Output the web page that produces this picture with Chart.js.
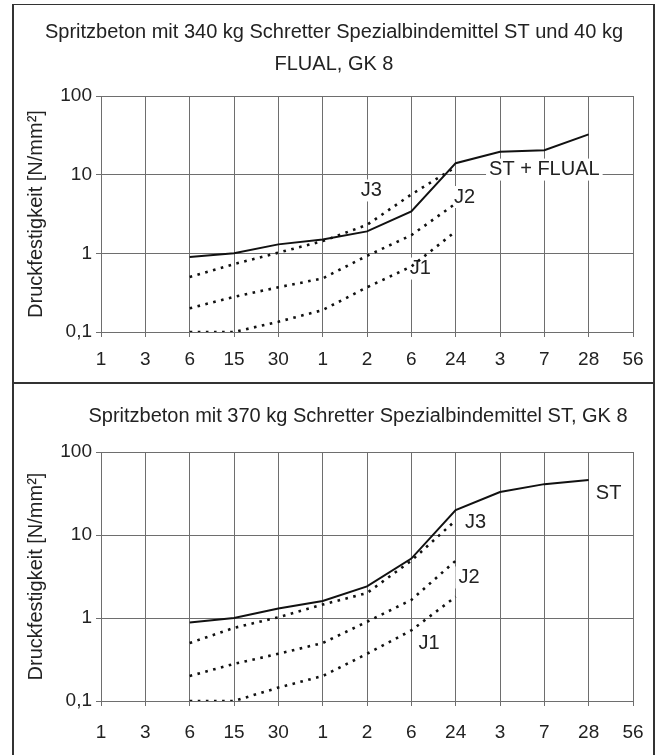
<!DOCTYPE html>
<html>
<head>
<meta charset="utf-8">
<script src="https://cdn.jsdelivr.net/npm/chart.js@4.4.1/dist/chart.umd.min.js"></script>
<style>
  body { margin:0; background:#fff; width:657px; height:755px; position:relative; overflow:hidden; }
  canvas { position:absolute; }
  .rahmen { position:absolute; background:#333; }
</style>
</head>
<body>
<div class="rahmen" style="left:12px;top:4px;width:2px;height:751px"></div>
<div class="rahmen" style="left:12px;top:4px;width:641px;height:1px"></div>
<div class="rahmen" style="left:653px;top:4px;width:2px;height:751px"></div>
<div class="rahmen" style="left:12px;top:382px;width:643px;height:2px"></div>
<canvas id="oben" width="639" height="376" style="left:14px;top:6px"></canvas>
<canvas id="unten" width="639" height="370" style="left:14px;top:385px"></canvas>
<script>
// Zeitachse: Minuten (1..30), Stunden (1..24), Tage (3..56)
const zeitLabels = ['1','3','6','15','30','1','2','6','24','3','7','28','56'];
const yTicks = [0.1, 1, 10, 100];
const yTickLabels = ['0,1', '1', '10', '100'];

// oben: 340 kg ST + 40 kg FLUAL
const stFlual = [null,null,0.9,1.0,1.3,1.5,1.9,3.4,14,19.5,20.5,32.5,null];
const j3Oben  = [null,null,0.5,0.73,1.02,1.43,2.3,5.6,12.5,null,null,null,null];
const j2Oben  = [null,null,0.2,0.28,0.37,0.48,0.93,1.7,4.3,null,null,null,null];
const j1Oben  = [null,null,0.1,0.1,0.135,0.19,0.37,0.68,1.9,null,null,null,null];

// unten: 370 kg ST
const stUnten = [null,null,0.88,1.0,1.3,1.6,2.4,5.2,20,33,41,46,null];
const j3Unten = [null,null,0.5,0.76,1.02,1.45,2.0,4.9,15,null,null,null,null];
const j2Unten = [null,null,0.2,0.28,0.37,0.5,0.9,1.65,4.9,null,null,null,null];
const j1Unten = [null,null,0.1,0.1,0.145,0.2,0.37,0.71,1.8,null,null,null,null];

const schrift = '"Liberation Sans", Arial, sans-serif';
const textFarbe = '#222';
const gitterFarbe = '#6e6e6e';

function linie(werte, gepunktet){
    return {
        data: werte,
        borderColor: '#111',
        borderWidth: gepunktet ? 2.6 : 2,
        borderDash: gepunktet ? [2.6, 5.5] : [],
        pointRadius: 0,
        tension: 0,
        spanGaps: false,
        order: gepunktet ? 2 : 1
    };
}

function titelPlugin(zeilen, x, y0, abstand){
    return {
        id: 'titel',
        afterDraw(chart){
            const ctx = chart.ctx;
            ctx.save();
            ctx.font = '20px ' + schrift;
            ctx.fillStyle = textFarbe;
            ctx.textAlign = 'center';
            ctx.textBaseline = 'middle';
            zeilen.forEach((z, i) => ctx.fillText(z, x, y0 + i * abstand));
            ctx.restore();
        }
    };
}

function beschriftungPlugin(eintraege){
    return {
        id: 'beschriftung',
        beforeDatasetsDraw(chart){
            const ctx = chart.ctx;
            const xs = chart.scales.x, ys = chart.scales.y;
            ctx.save();
            ctx.font = '20px ' + schrift;
            ctx.textAlign = 'center';
            ctx.textBaseline = 'middle';
            eintraege.forEach(e => {
                const px = xs.getPixelForValue(e.idx);
                const py = ys.getPixelForValue(e.wert);
                const w = ctx.measureText(e.text).width;
                ctx.fillStyle = '#fff';
                ctx.fillRect(px - w/2 - 3, py - 11, w + 6, 22);
                ctx.fillStyle = textFarbe;
                ctx.fillText(e.text, px, py);
            });
            ctx.restore();
        }
    };
}

function diagramm(id, reihen, titel, beschriftung, oben, xHoehe, xAbstand){
    new Chart(document.getElementById(id), {
        type: 'line',
        data: {
            labels: zeitLabels,
            datasets: reihen
        },
        options: {
            responsive: false,
            animation: false,
            layout: { padding: { left: 0, right: 20, top: oben, bottom: 0 } },
            plugins: { legend: { display: false }, tooltip: { enabled: false } },
            scales: {
                x: {
                    offset: false,
                    grid: { color: gitterFarbe, lineWidth: 1, tickLength: 5, drawTicks: true },
                    border: { display: false },
                    ticks: { color: textFarbe, font: { size: 19, family: schrift }, autoSkip: false, maxRotation: 0, padding: xAbstand },
                    afterFit(s){ s.height = xHoehe; s.paddingLeft = 0; s.paddingRight = 0; }
                },
                y: {
                    type: 'logarithmic',
                    min: 0.1,
                    max: 100,
                    grid: { color: gitterFarbe, lineWidth: 1, tickLength: 5 },
                    border: { display: false },
                    afterBuildTicks(s){ s.ticks = yTicks.map(v => ({ value: v })); },
                    ticks: {
                        color: textFarbe,
                        font: { size: 19, family: schrift },
                        padding: 4,
                        callback: (v, i) => yTickLabels[i]
                    },
                    title: {
                        display: true,
                        text: 'Druckfestigkeit [N/mm²]',
                        color: textFarbe,
                        font: { size: 20, family: schrift },
                        padding: { top: 10, bottom: 0 }
                    },
                    afterFit(s){ s.width = 87; s.paddingTop = 0; s.paddingBottom = 0; }
                }
            }
        },
        plugins: [titelPlugin.apply(null, titel), beschriftungPlugin(beschriftung)]
    });
}

diagramm('oben',
    [linie(stFlual, false), linie(j3Oben, true), linie(j2Oben, true), linie(j1Oben, true)],
    [['Spritzbeton mit 340 kg Schretter Spezialbindemittel ST und 40 kg', 'FLUAL, GK 8'], 320, 26, 32],
    [
        { text: 'J3', idx: 6.1, wert: 6.3 },
        { text: 'J2', idx: 8.2, wert: 5.2 },
        { text: 'J1', idx: 7.2, wert: 0.64 },
        { text: 'ST + FLUAL', idx: 10.0, wert: 11.6 }
    ],
    90, 50, 11);

diagramm('unten',
    [linie(stUnten, false), linie(j3Unten, true), linie(j2Unten, true), linie(j1Unten, true)],
    [['Spritzbeton mit 370 kg Schretter Spezialbindemittel ST, GK 8'], 344, 31, 0],
    [
        { text: 'ST', idx: 11.45, wert: 31.4 },
        { text: 'J3', idx: 8.45, wert: 14.1 },
        { text: 'J2', idx: 8.3, wert: 3.08 },
        { text: 'J1', idx: 7.4, wert: 0.5 }
    ],
    67, 54, 15);
</script>
</body>
</html>
